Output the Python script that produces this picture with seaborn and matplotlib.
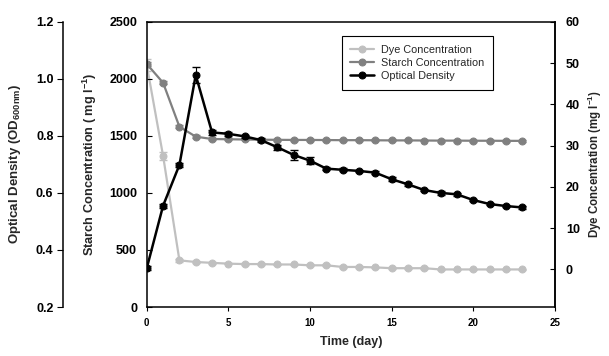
import numpy as np
import seaborn as sns
import matplotlib.pyplot as plt

sns.set_theme(style='white')
plt.rcParams['font.family'] = ['Liberation Sans', 'DejaVu Sans']
plt.rcParams['font.weight'] = 'bold'
plt.rcParams['mathtext.fontset'] = 'custom'
plt.rcParams['mathtext.rm'] = 'Liberation Sans:bold'
plt.rcParams['mathtext.bf'] = 'Liberation Sans:bold'
plt.rcParams['mathtext.default'] = 'bf'

# data
days = np.arange(0, 24)
starch = [2130, 1965, 1580, 1493, 1472, 1470, 1468, 1466, 1465, 1464, 1464, 1463,
          1462, 1462, 1461, 1460, 1460, 1459, 1458, 1458, 1457, 1457, 1456, 1456]
starch_err = [20, 15, 15, 10, 8, 8, 8, 8, 8, 8, 8, 8,
              8, 8, 8, 8, 8, 8, 8, 8, 8, 8, 8, 8]
dye = [49.5, 27.5, 2.2, 1.8, 1.6, 1.4, 1.3, 1.3, 1.2, 1.2, 1.0, 1.0,
       0.6, 0.6, 0.5, 0.3, 0.3, 0.3, 0.0, 0.0, 0.0, 0.0, 0.0, 0.0]
dye_err = [1.5, 1.0, 0.3, 0.3, 0.2, 0.2, 0.2, 0.2, 0.2, 0.2, 0.2, 0.2,
           0.2, 0.2, 0.2, 0.2, 0.2, 0.2, 0.2, 0.2, 0.2, 0.2, 0.2, 0.2]
od = [0.336, 0.555, 0.698, 1.013, 0.812, 0.807, 0.798, 0.785, 0.760, 0.733, 0.713, 0.685,
      0.681, 0.677, 0.671, 0.648, 0.630, 0.610, 0.600, 0.595, 0.575, 0.561, 0.554, 0.549]
od_err = [0.008, 0.007, 0.007, 0.027, 0.008, 0.007, 0.006, 0.006, 0.009, 0.018, 0.013, 0.005,
          0.005, 0.005, 0.005, 0.007, 0.005, 0.005, 0.007, 0.005, 0.005, 0.005, 0.005, 0.005]

c_dye = '#c0c0c0'
c_starch = '#808080'
c_od = '#000000'

fig = plt.figure(figsize=(6.09, 3.56), dpi=100)
ax = fig.add_axes([0.241, 0.1376, 0.67, 0.8014])
ax_dye = ax.twinx()
ax_od = ax.twinx()

# stacking: dye below starch below OD
ax_dye.set_zorder(1)
ax.set_zorder(2)
ax_od.set_zorder(3)
ax.patch.set_visible(False)
ax_od.patch.set_visible(False)

# dye
ax_dye.errorbar(days, dye, yerr=dye_err, fmt='none', ecolor=c_dye, elinewidth=0.8, capsize=3)
sns.lineplot(x=days, y=dye, ax=ax_dye, color=c_dye, marker='o', markersize=5,
             markeredgecolor=c_dye, linewidth=1.6, label='Dye Concentration', legend=False)
# starch
ax.errorbar(days, starch, yerr=starch_err, fmt='none', ecolor=c_starch, elinewidth=0.8, capsize=3)
sns.lineplot(x=days, y=starch, ax=ax, color=c_starch, marker='o', markersize=5,
             markeredgecolor=c_starch, linewidth=1.6, label='Starch Concentration', legend=False)
# optical density
ax_od.errorbar(days, od, yerr=od_err, fmt='none', ecolor=c_od, elinewidth=0.8, capsize=3)
sns.lineplot(x=days, y=od, ax=ax_od, color=c_od, marker='o', markersize=5,
             markeredgecolor=c_od, linewidth=1.8, label='Optical Density', legend=False)

# x axis / starch axis
ax.set_xlim(0, 25)
ax.set_xticks(range(0, 26, 5))
ax.set_ylim(0, 2500)
ax.set_yticks(range(0, 2501, 500))
for s in ax.spines.values():
    s.set_color('black')
    s.set_linewidth(1.1)
ax.tick_params(axis='x', direction='out', length=3, width=0.8, labelsize=7, pad=5,
               colors='black', bottom=True)
ax.tick_params(axis='y', direction='in', length=3.5, width=0.8, labelsize=9, pad=7,
               colors='black', left=True)
ax.set_xlabel('Time (day)', fontsize=9, fontweight='bold', labelpad=6)
ax.set_ylabel(r'Starch Concentration ( mg l$^{-1}$)', fontsize=9.2, fontweight='bold', labelpad=7)

# dye axis on the right
ax_dye.set_ylim(-9.1, 60)
ax_dye.set_yticks(range(0, 61, 10))
for k in ['left', 'top', 'bottom']:
    ax_dye.spines[k].set_visible(False)
ax_dye.spines['right'].set_color('black')
ax_dye.spines['right'].set_linewidth(1.1)
ax_dye.tick_params(axis='y', direction='in', length=3.5, width=0.8, labelsize=9, pad=8,
                   colors='black', right=True)
ax_dye.set_ylabel(r'Dye Concentration (mg l$^{-1}$)', fontsize=8.3, fontweight='bold', labelpad=4)

# optical density axis, detached on the left
ax_od.set_ylim(0.2, 1.2)
ax_od.set_yticks(np.arange(0.2, 1.21, 0.2))
ax_od.set_yticklabels(['%.1f' % v for v in np.arange(0.2, 1.21, 0.2)])
ax_od.yaxis.tick_left()
ax_od.yaxis.set_label_position('left')
for k in ['right', 'top', 'bottom']:
    ax_od.spines[k].set_visible(False)
ax_od.spines['left'].set_visible(True)
ax_od.spines['left'].set_position(('axes', -0.205))
ax_od.spines['left'].set_color('black')
ax_od.spines['left'].set_linewidth(1.1)
ax_od.tick_params(axis='y', direction='out', length=4, width=0.8, labelsize=9, pad=3,
                  colors='black', left=True)
ax_od.set_ylabel(r'Optical Density (OD$_{600nm}$)', fontsize=9.5, fontweight='bold', labelpad=9)

# legend
handles = [ax_dye.get_lines()[-1], ax.get_lines()[-1], ax_od.get_lines()[-1]]
labels = ['Dye Concentration', 'Starch Concentration', 'Optical Density']
leg = ax_od.legend(handles, labels, loc='upper left', bbox_to_anchor=(0.478, 0.95),
                   fancybox=False, framealpha=1, edgecolor='black',
                   prop={'family': 'Liberation Sans', 'weight': 'normal', 'size': 7.8},
                   handlelength=2.2, labelspacing=0.3, borderpad=0.8, handletextpad=0.6,
                   borderaxespad=0)
leg.get_frame().set_linewidth(0.8)

fig.savefig('out.png', dpi=100)
